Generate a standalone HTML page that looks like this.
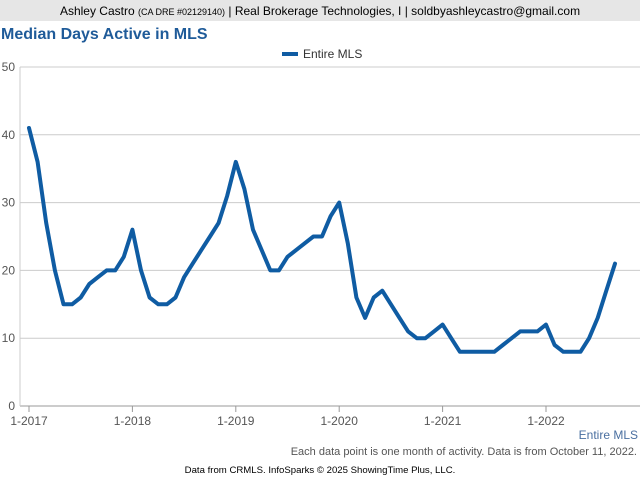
<!DOCTYPE html>
<html><head><meta charset="utf-8"><style>
body{margin:0;width:640px;height:480px;background:#fff;font-family:"Liberation Sans",Arial,sans-serif;overflow:hidden;position:relative}
.hdr{position:absolute;left:0;top:0;width:640px;height:21px;background:#e6e6e6;font-size:12px;line-height:22px;text-align:center;color:#000}
.hdr small{font-size:9px}
.title{position:absolute;left:1px;top:26px;font-size:16px;font-weight:bold;color:#1f5b99}
</style></head><body>
<div class="hdr">Ashley Castro <small>(CA DRE #02129140)</small> | Real Brokerage Technologies, I | soldbyashleycastro@gmail.com</div>
<div class="title">Median Days Active in MLS</div>
<svg id="s" width="640" height="480" style="position:absolute;left:0;top:0" font-family="Liberation Sans, Arial, sans-serif"></svg>
<script>
var s=document.getElementById('s'),h='';
function Y(v){return 406-v*6.78}
for(var v=0;v<=50;v+=10){var y=Y(v);h+='<line x1="20" x2="640" y1="'+y+'" y2="'+y+'" stroke="'+(v==0?'#999':'#ccc')+'" stroke-width="1"/>';h+='<text x="15" y="'+(y+4)+'" font-size="12" fill="#555" text-anchor="end">'+v+'</text>';}
h+='<line x1="20" x2="20" y1="67" y2="406" stroke="#ccc"/>';
for(var i=0;i<6;i++){var x=29+i*103.4;h+='<line x1="'+x+'" x2="'+x+'" y1="406" y2="412" stroke="#999"/><text x="'+x+'" y="425" font-size="12" fill="#555" text-anchor="middle">1-'+(2017+i)+'</text>';}
var d=[41,36,27,20,15,15,16,18,19,20,20,22,26,20,16,15,15,16,19,21,23,25,27,31,36,32,26,23,20,20,22,23,24,25,25,28,30,24,16,13,16,17,15,13,11,10,10,11,12,10,8,8,8,8,8,9,10,11,11,11,12,9,8,8,8,10,13,17,21];
var p='';d.forEach(function(v,i){p+=(i?'L':'M')+(29+i*8.617).toFixed(1)+','+Y(v).toFixed(1)});
h+='<path d="'+p+'" fill="none" stroke="#0f5ca3" stroke-width="4" stroke-linejoin="round" stroke-linecap="round"/>';
h+='<line x1="282" x2="298" y1="54" y2="54" stroke="#0f5ca3" stroke-width="4"/><text x="303" y="58" font-size="12" fill="#333">Entire MLS</text>';
h+='<text x="638" y="439" font-size="12" fill="#4a6fa0" text-anchor="end">Entire MLS</text>';
h+='<text x="637" y="455" font-size="11" fill="#555" text-anchor="end">Each data point is one month of activity. Data is from October 11, 2022.</text>';
h+='<text x="320" y="473" font-size="9.6" fill="#000" text-anchor="middle">Data from CRMLS. InfoSparks © 2025 ShowingTime Plus, LLC.</text>';
s.innerHTML=h;
</script>
</body></html>
